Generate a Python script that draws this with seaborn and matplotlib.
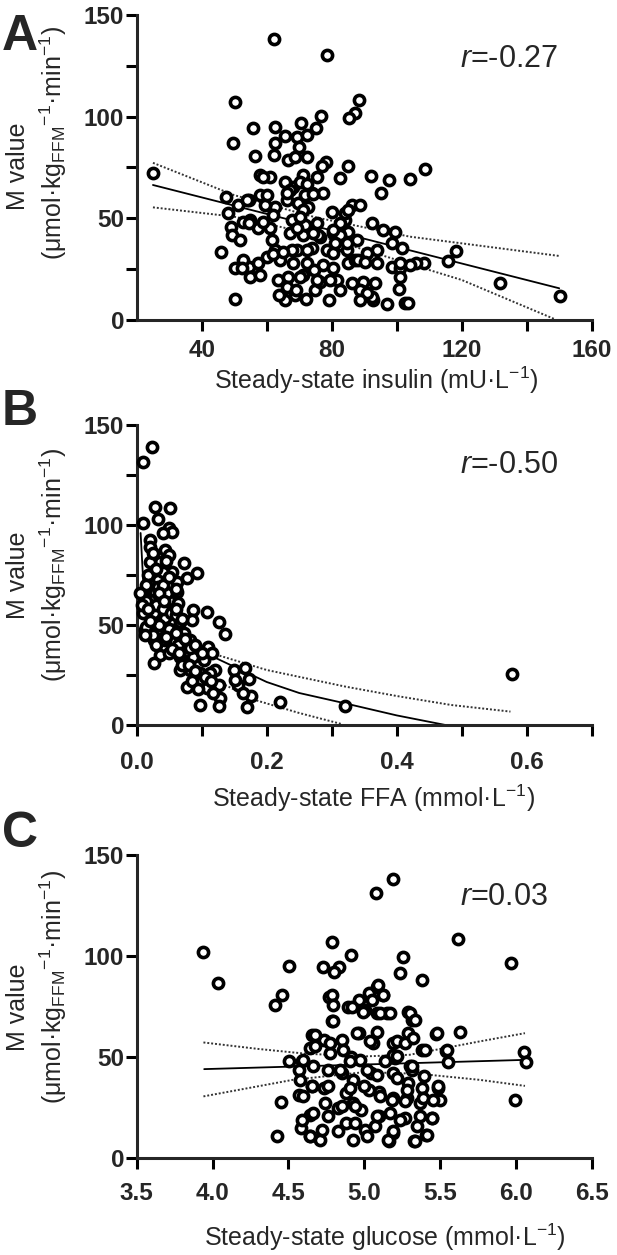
import numpy as np
import pandas as pd
import matplotlib
matplotlib.use("Agg")
import matplotlib.pyplot as plt
import seaborn as sns

# ---- panel A: steady-state insulin vs M value ----
insulin = [25.1, 62.2, 78.5, 50.1, 49.6, 55.9, 62.5, 70.7, 75.2, 76.8, 88.3, 87.3, 85.3, 108.7, 104.2,
           97.6, 95.2, 92.1, 82.5, 84.9, 78.2, 77.0, 56.5, 62.2, 62.5, 65.5, 69.2, 69.8, 47.4, 48.0,
           49.0, 49.2, 45.9, 50.1, 50.1, 115.7, 118.1, 131.7, 150.1, 102.4, 103.6, 97.0, 92.7, 79.2, 72.2,
           65.6, 63.7, 93.3, 100.6, 108.5, 106.0, 104.2,
           51.3, 54.4, 57.9, 54.9, 57.4, 61.0, 61.5, 62.6, 54.4, 57.4, 54.9, 57.9, 63.6, 66.7, 68.7,
           74.9, 71.3, 68.2, 72.3, 77.4, 76.4, 81.5, 82.6, 86.1, 80.5, 85.1, 69.2, 73.8, 76.4, 80.5,
           82.6, 84.6, 87.2, 71.3, 67.2, 67.7, 71.8, 75.4, 80.0, 84.1, 85.1, 86.1, 77.4, 72.8, 69.7,
           66.1, 62.6, 59.5, 68.2, 71.3, 65.6, 66.7, 68.7, 72.3, 57.9, 61.0, 75.4, 52.8, 60.0, 64.1,
           66.1, 67.7, 59.0, 52.8, 51.8, 72.3, 74.4, 78.5, 80.5,
           88.7, 92.3, 95.9, 99.5, 101.5, 98.5, 93.8, 90.8, 88.2, 90.3, 93.8, 98.5, 101.0, 101.0, 89.7,
           88.7, 92.3, 75.9, 82.6, 84.1, 71.3, 73.8, 70.2, 82.6, 81.0, 84.6, 87.7,
           72.3, 59.0, 72.3, 67.2, 71.8, 74.3, 70.2, 62.0, 54.4, 53.8, 60.0, 66.1, 69.2, 74.3, 80.5,
           85.1, 101.0, 62.0, 65.1, 70.2, 75.4, 79.5, 90.8, 69.0, 88.7, 52.3]
m_insulin = [72.5, 138.1, 130.4, 107.1, 86.9, 94.3, 95.1, 96.7, 94.3, 100.4, 108.2, 101.7, 99.2, 74.1, 69.4,
             68.9, 62.3, 71.0, 69.7, 75.9, 77.9, 75.9, 80.7, 81.2, 86.9, 90.5, 90.2, 85.3, 60.4, 52.5,
             45.9, 41.8, 33.3, 10.4, 25.8, 29.2, 34.1, 18.4, 12.0, 8.2, 8.2, 7.9, 9.9, 9.9, 10.4,
             9.9, 12.3, 18.1, 15.1, 27.9, 27.9, 27.1,
             56.5, 59.0, 61.5, 49.2, 45.1, 45.1, 39.3, 34.4, 26.2, 27.9, 21.3, 22.1, 19.7, 21.3, 12.3,
             14.7, 22.1, 27.9, 27.9, 27.1, 18.8, 19.7, 14.7, 18.0, 25.4, 27.9, 34.4, 35.2, 41.0, 42.6,
             36.9, 34.4, 29.5, 41.8, 42.6, 49.2, 46.7, 47.5, 53.3, 49.2, 43.4, 56.6, 62.3, 55.7, 57.4,
             59.0, 55.7, 56.5, 65.6, 71.3, 68.0, 78.7, 80.3, 80.3, 71.3, 70.5, 70.5, 29.5, 31.1, 29.5,
             16.4, 34.4, 48.4, 48.4, 39.3, 34.4, 24.6, 34.4, 32.8,
             56.6, 47.5, 44.3, 43.4, 35.2, 37.7, 34.4, 32.8, 29.5, 28.7, 27.9, 26.2, 25.4, 21.3, 18.9,
             14.7, 11.5, 41.8, 41.8, 52.5, 54.1, 62.3, 68.0, 47.5, 37.7, 37.7, 39.3,
             90.9, 70.5, 66.8, 63.9, 61.4, 61.9, 50.8, 51.6, 47.5, 59.0, 61.4, 62.3, 45.1, 42.6, 44.3,
             54.1, 27.8, 32.7, 33.6, 21.3, 19.6, 19.6, 13.1, 14.7, 9.8, 25.4]
fit_a_x = [25, 150]
fit_a_y = [66.4, 15.6]
upper_a_x = [25, 50, 75, 104, 120, 150]
upper_a_y = [77.3, 61.4, 50.5, 41.0, 37.7, 31.5]
lower_a_x = [25, 50, 75, 110, 120, 148.5]
lower_a_y = [55.4, 50.8, 42.0, 24.6, 19.7, 0.5]

# ---- panel B: steady-state FFA vs M value ----
ffa = [0.023, 0.010, 0.009, 0.028, 0.051, 0.033, 0.049, 0.054, 0.021, 0.041, 0.021, 0.044, 0.049, 0.036,
       0.021, 0.072, 0.092, 0.054, 0.077, 0.062, 0.033, 0.018, 0.021, 0.010, 0.028, 0.049, 0.064, 0.087,
       0.108, 0.126, 0.136, 0.085, 0.067, 0.044, 0.026, 0.013, 0.010, 0.013, 0.026, 0.038, 0.056, 0.072,
       0.082, 0.054, 0.036, 0.026, 0.049, 0.067, 0.087, 0.110, 0.103, 0.120, 0.113, 0.098, 0.082, 0.067,
       0.077, 0.095, 0.108, 0.126, 0.128, 0.098, 0.149, 0.156, 0.021, 0.046, 0.062, 0.033, 0.041, 0.015,
       0.031, 0.044, 0.064, 0.082,
       0.578, 0.321, 0.221, 0.167, 0.173, 0.176, 0.169, 0.164, 0.151, 0.127, 0.116,
       0.015, 0.030, 0.040, 0.052, 0.060, 0.070, 0.035, 0.050, 0.060, 0.075, 0.090, 0.100, 0.045, 0.025,
       0.030, 0.055, 0.065, 0.070, 0.080, 0.090, 0.085, 0.105, 0.115, 0.095, 0.118, 0.040, 0.050, 0.030,
       0.045, 0.060, 0.025, 0.015, 0.035, 0.020, 0.012, 0.008, 0.005, 0.018, 0.042, 0.060]
m_ffa = [139.2, 131.7, 101.2, 109.2, 108.3, 102.8, 98.3, 96.7, 92.5, 95.8, 89.2, 87.5, 85.0, 81.7,
         81.7, 80.8, 76.2, 76.7, 73.3, 71.7, 72.5, 75.0, 70.0, 65.8, 65.8, 62.5, 60.8, 57.5,
         56.7, 51.7, 45.5, 52.5, 51.7, 53.3, 55.8, 59.2, 55.8, 47.5, 42.5, 47.5, 47.5, 45.8,
         42.5, 41.7, 35.0, 30.8, 35.8, 34.2, 34.2, 39.2, 32.5, 27.5, 25.8, 25.8, 27.5, 27.5,
         19.2, 21.7, 18.3, 20.0, 13.3, 10.0, 27.5, 20.0, 62.5, 65.8, 66.7, 69.2, 76.7, 49.2,
         47.5, 42.5, 40.0, 38.3,
         25.5, 9.5, 11.7, 28.3, 22.8, 14.5, 9.2, 15.8, 22.5, 9.5, 35.8,
         62.0, 60.0, 58.0, 56.0, 55.0, 53.0, 50.0, 48.0, 46.0, 43.0, 40.0, 36.0, 44.0, 45.0,
         40.0, 38.0, 36.0, 30.0, 30.0, 27.0, 22.0, 24.0, 22.0, 18.0, 16.0, 70.0, 74.0, 78.0,
         82.0, 68.0, 86.0, 70.0, 66.0, 52.0, 45.0, 60.0, 66.0, 58.0, 62.0, 58.0]
fit_b_x = [0.006, 0.01, 0.02, 0.04, 0.07, 0.1, 0.128, 0.2, 0.25, 0.321, 0.4, 0.475]
fit_b_y = [96, 72, 62, 52, 42, 37, 32.5, 21.5, 16, 10.8, 4.8, 0]
upper_b_x = [0.116, 0.2, 0.321, 0.4, 0.484, 0.575]
upper_b_y = [35.8, 27.5, 19.2, 14.5, 10.0, 6.7]
lower_b_x = [0.1, 0.13, 0.182, 0.25, 0.315]
lower_b_y = [27.0, 21.0, 12.5, 6.0, 0.5]

# ---- panel C: steady-state glucose vs M value ----
glucose = [3.94, 4.036, 4.502, 4.458, 4.411, 4.424, 4.45, 4.787, 4.911, 4.73, 4.834, 4.8, 5.077, 5.188,
           5.616, 5.965, 5.991, 6.056, 6.069, 5.629, 5.538, 5.551, 5.473, 5.383, 5.235, 5.253, 5.408,
           5.331, 5.162, 4.929, 4.709, 4.644, 4.58, 5.486, 5.447, 5.499, 4.567, 4.502, 4.593, 4.657,
           4.735, 4.774, 4.787, 4.769, 4.89, 4.968, 5.033, 5.085, 5.124, 5.15, 5.292, 5.318, 5.383,
           5.292, 5.188, 5.305, 5.201, 4.644, 4.567, 4.657, 4.735, 4.826, 4.878, 4.929, 5.046, 5.098,
           5.188, 5.279, 5.266, 5.188, 5.072, 4.981, 4.878, 4.761, 4.644, 5.007, 5.098, 5.188, 5.292,
           5.37, 5.059, 4.968, 4.916, 4.852, 5.085, 5.007, 5.188, 4.852, 5.033, 4.929, 5.396, 5.318,
           4.785, 4.797, 4.797, 4.917, 4.994, 5.049, 5.093, 5.126, 5.104, 5.17, 5.302, 5.335, 4.95,
           5.082, 5.038, 5.214, 5.269, 5.324, 5.478, 5.544, 5.401, 5.313, 5.214, 5.137, 5.016, 4.972,
           4.906, 4.84, 4.763, 4.676, 4.676, 4.775, 4.862, 4.599, 4.665, 4.654, 4.763, 4.906, 4.997,
           5.104, 5.181, 5.269, 5.28, 5.379, 5.489, 5.39, 5.456, 5.214, 5.082, 4.741, 4.851, 4.939,
           5.082, 5.17, 5.236, 5.368, 5.445, 4.665, 4.72, 4.829, 4.939, 5.016, 5.159, 5.192, 5.335,
           5.412, 5.346, 4.643, 4.599, 4.577, 4.588]
m_glucose = [102.2, 86.8, 95.1, 80.7, 75.8, 11.0, 27.7, 107.1, 100.5, 94.8, 94.8, 92.3, 131.0, 138.1,
             108.3, 96.4, 28.5, 52.7, 47.3, 62.6, 53.2, 47.3, 61.3, 88.2, 91.5, 99.7, 11.5,
             8.2, 8.2, 9.0, 9.0, 10.7, 14.8, 34.6, 19.8, 28.8, 31.3, 47.8, 47.8, 60.9,
             58.5, 51.9, 67.6, 79.9, 75.0, 78.3, 81.6, 84.9, 80.7, 71.7, 72.5, 68.4, 53.5,
             61.8, 56.8, 45.3, 49.4, 54.4, 43.6, 35.4, 34.6, 24.7, 32.1, 38.7, 42.0, 32.9,
             29.6, 29.6, 19.8, 12.3, 15.6, 23.9, 17.3, 20.6, 21.4, 14.0, 20.6, 42.0, 37.1,
             27.2, 56.8, 61.8, 50.2, 42.0, 71.7, 73.3, 51.1, 58.5, 33.8, 27.2, 40.4, 43.6,
             80.8, 75.8, 67.6, 75.0, 72.5, 78.3, 85.7, 80.8, 71.7, 71.7, 71.7, 68.4, 61.8,
             62.6, 57.7, 57.7, 56.9, 59.4, 61.8, 53.6, 53.6, 45.3, 50.3, 47.8, 43.7, 48.6,
             47.8, 43.7, 43.7, 61.0, 55.2, 56.9, 53.6, 48.6, 45.3, 35.5, 35.5, 34.6, 35.5,
             30.5, 28.9, 28.0, 33.8, 34.6, 35.5, 29.7, 28.9, 39.6, 41.2, 27.2, 25.6, 25.6,
             20.6, 22.3, 19.0, 20.6, 19.8, 22.3, 14.0, 13.2, 17.3, 10.7, 9.1, 13.2, 8.2,
             11.5, 15.7, 10.7, 30.5, 38.7, 19.0]
fit_c_x = [3.945, 6.07]
fit_c_y = [44.0, 48.6]
upper_c_x = [3.94, 4.3, 4.62, 5.0, 5.3, 5.76, 6.06]
upper_c_y = [57.2, 54.0, 51.6, 50.3, 51.1, 57.7, 61.8]
lower_c_x = [3.94, 4.53, 5.0, 5.36, 5.76, 6.06]
lower_c_y = [30.5, 38.7, 42.5, 41.7, 38.7, 35.7]

sns.set_style("ticks")
plt.rcParams["font.family"] = ["Liberation Sans", "DejaVu Sans"]
plt.rcParams["mathtext.fontset"] = "custom"
plt.rcParams["mathtext.rm"] = "Liberation Sans"
plt.rcParams["mathtext.it"] = "Liberation Sans:italic"

W, H = 617, 1255
fig = plt.figure(figsize=(W / 100, H / 100), dpi=100)

def px_axes(top, bottom, left=136.7, right=591.7):
    return fig.add_axes([left / W, 1 - bottom / H, (right - left) / W, (bottom - top) / H])

SUP = r"$^{\mathregular{-1}}$"
ylab2 = "(μmol·kg" + r"$_{\mathregular{FFM}}$" + SUP + "·min" + SUP + ")"

def draw_panel(ax, x, y, fit, upper, lower, r_txt, r_y):
    sns.lineplot(x=upper[0], y=upper[1], ax=ax, color="#333333", lw=1.4,
                 linestyle=(0, (1, 1)), errorbar=None, zorder=1)
    sns.lineplot(x=lower[0], y=lower[1], ax=ax, color="#333333", lw=1.4,
                 linestyle=(0, (1, 1)), errorbar=None, zorder=1)
    sns.lineplot(x=fit[0], y=fit[1], ax=ax, color="black", lw=1.3, errorbar=None, zorder=2)
    sns.scatterplot(x=x, y=y, ax=ax, s=54, color="white", edgecolor="black",
                    linewidth=2.6, zorder=3, clip_on=False)
    ax.set_ylim(0, 150)
    for s in ["top", "right"]:
        ax.spines[s].set_visible(False)
    for s in ["left", "bottom"]:
        ax.spines[s].set_linewidth(2.2)
    ax.tick_params(length=8, width=2.2, labelsize=17.5, pad=1, color="black")
    ax.text(0.71, r_y, r"$\mathit{r}$=" + r_txt, transform=ax.transAxes,
            fontsize=22, ha="left", va="baseline")
    ax.set_xlabel("")
    ax.set_ylabel("")

def set_ticks(ax, xt, xl, yt, yl, xpad):
    ax.set_xticks(xt)
    ax.set_xticklabels(xl, fontweight="bold", fontsize=17.5)
    ax.set_yticks(yt)
    ax.set_yticklabels(yl, fontweight="bold", fontsize=17.5)
    ax.tick_params(axis="x", pad=xpad)
    ax.tick_params(axis="y", pad=1)

# A
ax_a = px_axes(15, 320)
draw_panel(ax_a, insulin, m_insulin, (fit_a_x, fit_a_y), (upper_a_x, upper_a_y),
           (lower_a_x, lower_a_y), "-0.27", 0.83)
ax_a.set_xlim(20, 160)
set_ticks(ax_a, [40, 60, 80, 100, 120, 140, 160], ["40", "", "80", "", "120", "", "160"],
          [0, 25, 50, 75, 100, 125, 150], ["0", "", "50", "", "100", "", "150"], 6)
ax_a.text(0.526, -0.197, "Steady-state insulin (mU·L" + SUP + ")",
          transform=ax_a.transAxes, fontsize=18, ha="center", va="center")

# B
ax_b = px_axes(425, 725)
draw_panel(ax_b, ffa, m_ffa, (fit_b_x, fit_b_y), (upper_b_x, upper_b_y),
           (lower_b_x, lower_b_y), "-0.50", 0.84)
ax_b.set_xlim(0, 0.7)
set_ticks(ax_b, [0, 0.1, 0.2, 0.3, 0.4, 0.5, 0.6, 0.7], ["0.0", "", "0.2", "", "0.4", "", "0.6", ""],
          [0, 25, 50, 75, 100, 125, 150], ["0", "", "50", "", "100", "", "150"], 11)
ax_b.text(0.52, -0.243, "Steady-state FFA (mmol·L" + SUP + ")",
          transform=ax_b.transAxes, fontsize=18, ha="center", va="center")

# C
ax_c = px_axes(855, 1158)
draw_panel(ax_c, glucose, m_glucose, (fit_c_x, fit_c_y), (upper_c_x, upper_c_y),
           (lower_c_x, lower_c_y), "0.03", 0.835)
ax_c.set_xlim(3.5, 6.5)
set_ticks(ax_c, [3.5, 4.0, 4.5, 5.0, 5.5, 6.0, 6.5], ["3.5", "4.0", "4.5", "5.0", "5.5", "6.0", "6.5"],
          [0, 50, 100, 150], ["0", "50", "100", "150"], 9)
ax_c.text(0.546, -0.261, "Steady-state glucose (mmol·L" + SUP + ")",
          transform=ax_c.transAxes, fontsize=18, ha="center", va="center")

# y labels (two lines) and panel letters
for c1, c2 in [(166, 143.5), (575, 565), (1007, 987)]:
    fig.text(18 / W, 1 - c1 / H, "M value", rotation=90, fontsize=18, ha="center", va="center")
    fig.text(53 / W, 1 - c2 / H, ylab2, rotation=90, fontsize=18, ha="center", va="center")

for letter, base in [("A", 50), ("B", 425), ("C", 847)]:
    fig.text(2 / W, 1 - base / H, letter, fontsize=36, fontweight="bold", ha="left", va="baseline")

fig.savefig("out.png", dpi=100)
